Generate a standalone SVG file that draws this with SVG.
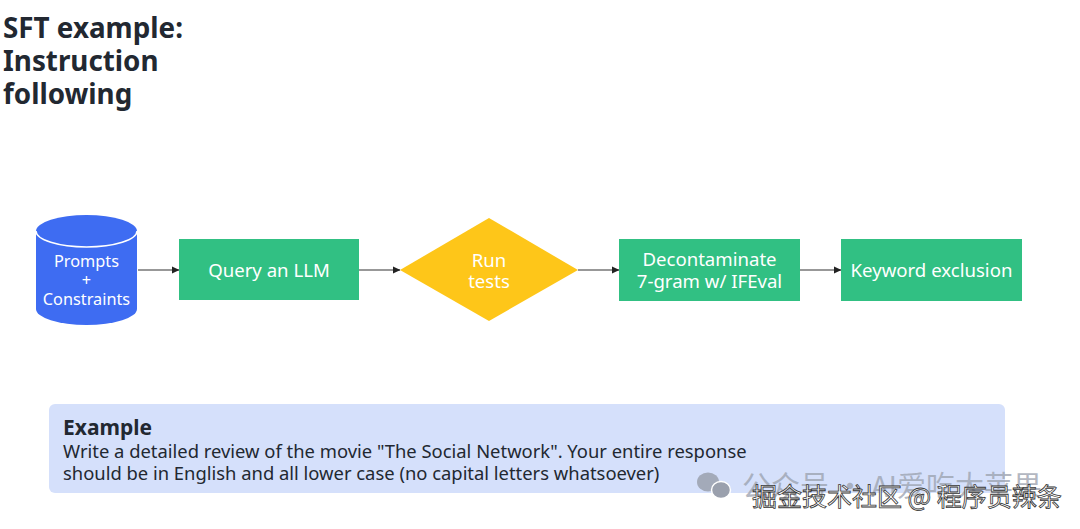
<svg xmlns="http://www.w3.org/2000/svg" width="1080" height="529" viewBox="0 0 1080 529">
<style>
.title{font-family:"Noto Sans","Open Sans",sans-serif;font-weight:bold;font-size:27.8px;fill:#222831}
.lbl{font-family:"Noto Sans","Open Sans",sans-serif;font-size:18.6px;fill:#ffffff;text-anchor:middle}
.lbl16{font-family:"Noto Sans","Open Sans",sans-serif;font-size:16.3px;fill:#ffffff;text-anchor:middle}
.box{fill:#31c083}
.edge{stroke:#333;stroke-width:1.2;fill:none;marker-end:url(#ah)}
.ex{font-family:"Noto Sans","Open Sans",sans-serif;font-size:18.4px;fill:#222831}
.exb{font-family:"Noto Sans","Open Sans",sans-serif;font-size:21px;font-weight:bold;fill:#222831}
.wm1{font-family:"Noto Sans CJK SC","Noto Sans",sans-serif;font-size:29px;fill:#9aa0ad;fill-opacity:0.75}
.wm2{font-family:"Noto Sans CJK SC","Noto Sans",sans-serif;font-size:25px;fill:#ffffff;stroke:#333;stroke-width:0.8}
</style>
<defs>
<marker id="ah" markerWidth="8" markerHeight="8" refX="7" refY="4" orient="auto" markerUnits="userSpaceOnUse">
<path d="M0,0.5 L7.5,4 L0,7.5 Z" fill="#222"/>
</marker>
</defs>
<rect width="1080" height="529" fill="#ffffff"/>
<g id="title">
<text class="title" x="3" y="38">SFT example:</text>
<text class="title" x="3" y="71">Instruction</text>
<text class="title" x="3" y="104">following</text>
</g>
<g id="connectors">
<line class="edge" x1="138" y1="270" x2="179" y2="270"/>
<line class="edge" x1="359" y1="270" x2="400" y2="270"/>
<line class="edge" x1="578" y1="270" x2="619" y2="270"/>
<line class="edge" x1="800" y1="270" x2="841" y2="270"/>
</g>
<g id="prompts">
<path d="M36,231 A50.5,16 0 0 1 137,231 L137,309 A50.5,16 0 0 1 36,309 Z" fill="#3e6cf2"/>
<path d="M36,231 A50.5,16 0 0 0 137,231" fill="none" stroke="#ffffff" stroke-width="1.5"/>
<text class="lbl16" x="86.5" y="267">Prompts</text>
<text class="lbl16" x="86.5" y="286">+</text>
<text class="lbl16" x="86.5" y="305">Constraints</text>
</g>
<g id="query">
<rect class="box" x="179" y="239" width="180" height="61"/>
<text class="lbl" x="269" y="277">Query an LLM</text>
</g>
<g id="run">
<polygon points="489,218 578,270 489,321 400,270" fill="#fec619"/>
<text class="lbl" x="489" y="267">Run</text>
<text class="lbl" x="489" y="288">tests</text>
</g>
<g id="decon">
<rect class="box" x="619" y="239" width="181" height="62"/>
<text class="lbl" x="709.5" y="266">Decontaminate</text>
<text class="lbl" x="709.5" y="288">7-gram w/ IFEval</text>
</g>
<g id="keyword">
<rect class="box" x="841" y="239" width="181" height="62"/>
<text class="lbl" x="931.5" y="277">Keyword exclusion</text>
</g>
<g id="example">
<rect x="49" y="404" width="956" height="89" rx="6" fill="#d5e0fb"/>
<text class="exb" x="63" y="435">Example</text>
<text class="ex" x="63" y="458">Write a detailed review of the movie "The Social Network". Your entire response</text>
<text class="ex" x="63" y="480">should be in English and all lower case (no capital letters whatsoever)</text>
</g>
<g id="watermark">
<ellipse cx="708" cy="482" rx="11" ry="9.5" fill="#9aa0ad" fill-opacity="0.85"/>
<ellipse cx="721" cy="490" rx="9.5" ry="8.5" fill="#9aa0ad" stroke="#ffffff" stroke-width="1.5"/>
<text class="wm1" x="742" y="497">公众号 · AI爱吃大苹果</text>
<text class="wm2" x="752" y="506">掘金技术社区 @ 程序员辣条</text>
</g>
</svg>
